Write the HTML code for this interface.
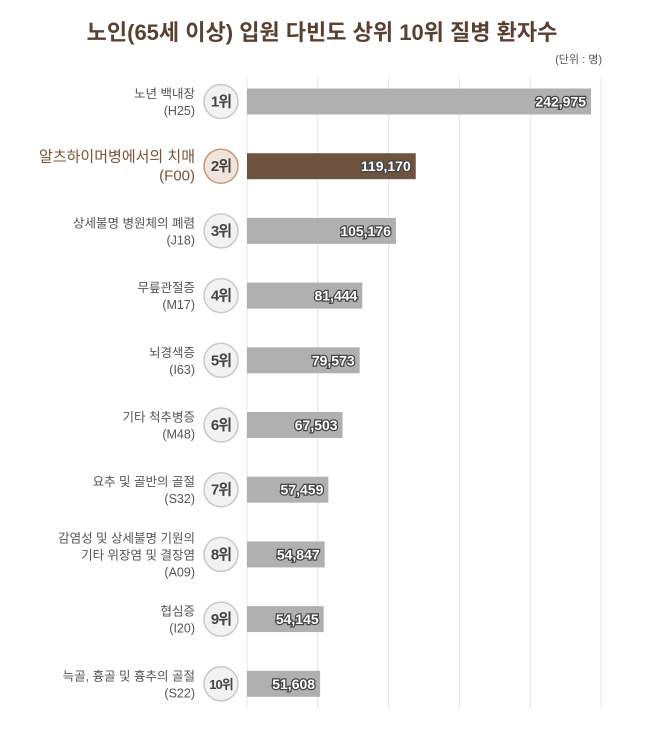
<!DOCTYPE html>
<html><head><meta charset="utf-8"><style>
body{margin:0;background:#fff;font-family:"Liberation Sans","Noto Sans CJK KR",sans-serif;}
#wrap{position:relative;width:645px;height:729px;overflow:hidden;}
</style></head><body>
<div id="wrap">
<svg id="svg" width="645" height="729"></svg>
</div>
<script>
const categories=["노년 백내장|(H25)","알츠하이머병에서의 치매|(F00)","상세불명 병원체의 폐렴|(J18)","무릎관절증|(M17)","뇌경색증|(I63)","기타 척추병증|(M48)","요추 및 골반의 골절|(S32)","감염성 및 상세불명 기원의|기타 위장염 및 결장염|(A09)","협심증|(I20)","늑골, 흉골 및 흉추의 골절|(S22)"];
const values=[242975,119170,105176,81444,79573,67503,57459,54847,54145,51608];
const valueLabels=["242,975","119,170","105,176","81,444","79,573","67,503","57,459","54,847","54,145","51,608"];
const gridTicks=[0,50000,100000,150000,200000,250000];
const NS="http://www.w3.org/2000/svg";
const svg=document.getElementById('svg');
const x0=247,pxPer=70.8/50000,yTop=101.5,step=64.7,bh=26;
const xs=v=>x0+v*pxPer, ys=i=>yTop+i*step;
function mk(t,a){const e=document.createElementNS(NS,t);for(const k in a)e.setAttribute(k,a[k]);svg.appendChild(e);return e;}
let t=mk('text',{x:322,y:40,'text-anchor':'middle','font-size':22,'font-weight':'bold',fill:'#5a4030'});


t.textContent='노인(65세 이상) 입원 다빈도 상위 10위 질병 환자수';
t=mk('text',{x:602,y:63,'text-anchor':'end','font-size':11,fill:'#555'});


t.textContent='(단위 : 명)';
gridTicks.forEach(g=>{const l=mk('line',{x1:xs(g),x2:xs(g),y1:77,y2:708,stroke:'#e4e4e4','stroke-width':1});

});
values.forEach((v,i)=>{
 const cy=ys(i),hl=i===1;
 const r=mk('rect',{x:x0,y:cy-bh/2,width:xs(v)-x0,height:bh,fill:hl?'#6e5340':'#b0b0b0'});
 
 
 const vt=mk('text',{x:xs(v)-5,y:cy+5,'text-anchor':'end','font-size':14,'font-weight':'bold',fill:'#fff',stroke:'#444','stroke-width':2.5,'paint-order':'stroke'});
 
 
 vt.textContent=valueLabels[i];
 const c=mk('circle',{cx:221,cy:cy,r:17,fill:hl?'#f1e4da':'#f3f2f2',stroke:hl?'#c49a7a':'#c8c8c8','stroke-width':1.5});
 
 
 const rt=mk('text',{x:221,y:cy+5,'text-anchor':'middle','font-size':i==9?13:15,'font-weight':'bold',fill:'#444','letter-spacing':-1});
 
 
 rt.textContent=(i+1)+'위';
 const lines=categories[i].split('|');const lh=hl?19:17;
 const start=cy-(lines.length-1)*lh/2+5;
 lines.forEach((s,j)=>{const lt=mk('text',{x:195,y:start+j*lh,'text-anchor':'end','font-size':hl?15:12.5,fill:hl?'#7a5233':'#555'});
 
 
 lt.textContent=s;});
});
</script>
</body></html>
